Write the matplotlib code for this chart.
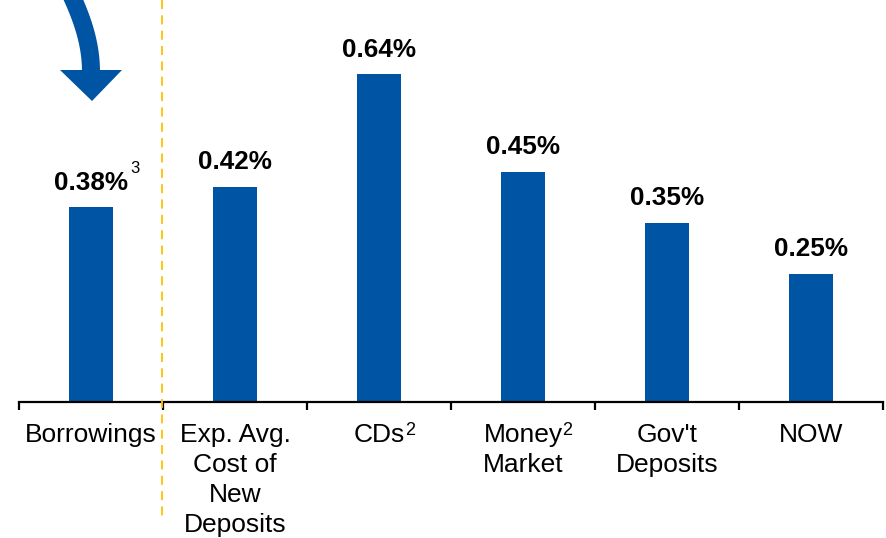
import matplotlib
matplotlib.use("Agg")
import matplotlib.pyplot as plt
import numpy as np
from matplotlib.patches import Polygon

plt.rcParams['font.family'] = ['Liberation Sans', 'DejaVu Sans']

categories = ["Borrowings", "Exp. Avg.\nCost of\nNew\nDeposits", "CDs", "Money\nMarket", "Gov't\nDeposits", "NOW"]
cat_sup = ["", "", "2", "2", "", ""]
values = [0.38, 0.42, 0.64, 0.45, 0.35, 0.25]
value_labels = ["0.38%", "0.42%", "0.64%", "0.45%", "0.35%", "0.25%"]
value_sup = ["3", "", "", "", "", ""]

W, H = 886, 538
fig = plt.figure(figsize=(W / 100, H / 100), dpi=100)

def fx(px):
    return px / W

def fy(py):
    return 1 - py / H

axis_y = 402
ax = fig.add_axes([fx(19), fy(axis_y), fx(883) - fx(19), axis_y / H])
ax.set_xlim(-0.5, len(categories) - 0.5)
ax.set_ylim(0, axis_y / 512)

blue = "#0054A4"
x = np.arange(len(categories))
ax.bar(x, values, width=0.31, color=blue, zorder=2)

for s in ["top", "left", "right"]:
    ax.spines[s].set_visible(False)
ax.spines["bottom"].set_linewidth(1.6)
ax.set_yticks([])
ax.set_xticks(np.arange(-0.5, len(categories), 1.0))
ax.set_xticklabels([])
ax.tick_params(axis="x", length=6, width=1.6, direction="out")

# value labels
for xi, v, lab, sup in zip(x, values, value_labels, value_sup):
    t = ax.annotate(lab, xy=(xi, v), xytext=(0, 12.6), textcoords="offset points",
                    ha="center", va="baseline", fontsize=18.8, fontweight="bold", color="black")
    if sup:
        ax.annotate(sup, xy=(1, 1), xycoords=t, xytext=(1.5, 7), textcoords="offset points",
                    ha="left", va="top", fontsize=12, color="black")

# category labels
base_off = (442 - axis_y) * 0.72
line_sp = 30 * 0.72
for xi, lab, sup in zip(x, categories, cat_sup):
    lines = lab.split("\n")
    first = None
    for i, ln in enumerate(lines):
        t = ax.annotate(ln, xy=(xi, 0), xytext=(0, -(base_off + i * line_sp)),
                        textcoords="offset points", ha="center", va="baseline",
                        fontsize=19, color="black", annotation_clip=False)
        if i == 0:
            first = t
    if sup:
        ax.annotate(sup, xy=(1, 1), xycoords=first, xytext=(0, 0.5), textcoords="offset points",
                    ha="left", va="top", fontsize=13, color="black")

# dashed separator
fig.add_artist(plt.Line2D([fx(162), fx(162)], [fy(0), fy(518)], transform=fig.transFigure,
                          color="#FFC000", lw=1.3, dashes=(5, 3.5)))

# curved arrow
t = np.linspace(0, 1, 60)
P0 = np.array([64.0, -20.0]); P1 = np.array([80.0, 12.0]); P2 = np.array([91.0, 40.0]); P3 = np.array([91.0, 72.0])
curve = ((1 - t) ** 3)[:, None] * P0 + (3 * (1 - t) ** 2 * t)[:, None] * P1 + \
        (3 * (1 - t) * t ** 2)[:, None] * P2 + (t ** 3)[:, None] * P3
d = np.gradient(curve, axis=0)
d /= np.linalg.norm(d, axis=1)[:, None]
nrm = np.stack([-d[:, 1], d[:, 0]], axis=1)
hw = 9.0
left = curve + nrm * hw
right = curve - nrm * hw
shaft = np.vstack([left, right[::-1]])
shaft_fig = np.column_stack([shaft[:, 0] / W, 1 - shaft[:, 1] / H])
fig.add_artist(Polygon(shaft_fig, closed=True, transform=fig.transFigure, color=blue, lw=0))
head = np.array([[60, 70], [122, 70], [92, 101]], dtype=float)
head_fig = np.column_stack([head[:, 0] / W, 1 - head[:, 1] / H])
fig.add_artist(Polygon(head_fig, closed=True, transform=fig.transFigure, color=blue, lw=0))

fig.savefig("out.png", dpi=100)
